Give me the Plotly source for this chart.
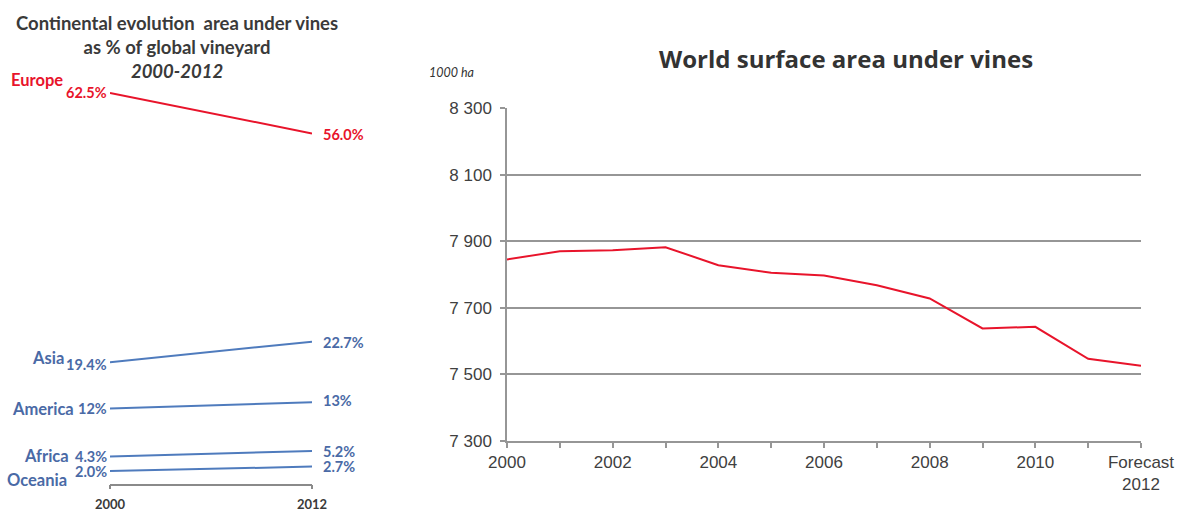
import plotly.graph_objects as go

# ---- Left panel: share of global vineyard by continent (%) ----
continents = ["Europe", "Asia", "America", "Africa", "Oceania"]
share_2000 = [62.5, 19.4, 12, 4.3, 2.0]
share_2012 = [56.0, 22.7, 13, 5.2, 2.7]
share_2000_text = ["62.5%", "19.4%", "12%", "4.3%", "2.0%"]
share_2012_text = ["56.0%", "22.7%", "13%", "5.2%", "2.7%"]
share_years = [2000, 2012]

# ---- Right panel: world surface area under vines (1000 ha) ----
years = list(range(2000, 2013))
area = [7845, 7870, 7873, 7882, 7828, 7805, 7797, 7768, 7728, 7638, 7643, 7547, 7526]
year_tick_text = ["2000", "", "2002", "", "2004", "", "2006", "", "2008", "", "2010", "",
                  "Forecast<br>2012"]
area_ticks = [7300, 7500, 7700, 7900, 8100, 8300]

W, H = 1179, 511
RED = "#e8142b"
BLUE = "#4f7bbd"
BLUE_TXT = "#4a6aa6"
DARK = "#3a3a3a"
GRID = "#969696"
LEFT_FONT = "Lato"

line_colors = [RED, BLUE, BLUE, BLUE, BLUE]
text_colors = [RED, BLUE_TXT, BLUE_TXT, BLUE_TXT, BLUE_TXT]
# pixel offsets of the continent names relative to the 2000 point
name_shift = [(-45, 13), (-44, 4), (-34, 0), (-39, 1), (-41, -9)]
v0_shift = [0, -2, 0, 0, 0]
v1_shift = [-1, -1, 2, 0, 0]

fig = go.Figure()

for i, name in enumerate(continents):
    fig.add_trace(go.Scatter(
        x=share_years, y=[share_2000[i], share_2012[i]],
        mode="lines", line=dict(color=line_colors[i], width=2),
        xaxis="x", yaxis="y", showlegend=False, hoverinfo="skip"))

annotations = []
for i, name in enumerate(continents):
    annotations.append(dict(
        x=2000, y=share_2000[i], xref="x", yref="y", text=name,
        xanchor="right", yanchor="middle", showarrow=False,
        xshift=name_shift[i][0], yshift=name_shift[i][1],
        font=dict(family=LEFT_FONT, size=16.5, color=text_colors[i], weight="bold")))
    annotations.append(dict(
        x=2000, y=share_2000[i], xref="x", yref="y", text=share_2000_text[i],
        xanchor="right", yanchor="middle", showarrow=False,
        xshift=-1, yshift=v0_shift[i],
        font=dict(family=LEFT_FONT, size=14.5, color=text_colors[i], weight="bold")))
    annotations.append(dict(
        x=2012, y=share_2012[i], xref="x", yref="y", text=share_2012_text[i],
        xanchor="left", yanchor="middle", showarrow=False,
        xshift=9, yshift=v1_shift[i],
        font=dict(family=LEFT_FONT, size=14.5, color=text_colors[i], weight="bold")))

# left panel title
annotations.append(dict(
    x=177 / W, y=1 - 47 / H, xref="paper", yref="paper",
    text="Continental evolution  area under vines<br>as % of global vineyard<br><b><i>2000-2012</i></b>",
    showarrow=False, xanchor="center", yanchor="middle", align="center",
    font=dict(family=LEFT_FONT, size=18.5, color=DARK, weight="bold")))

# right panel title and unit
annotations.append(dict(
    x=846 / W, y=1 - 58 / H, xref="paper", yref="paper",
    text="World surface area under vines", showarrow=False,
    xanchor="center", yanchor="middle",
    font=dict(family="Open Sans", size=24, color="#333333", weight="bold")))
annotations.append(dict(
    x=427 / W, y=1 - 73 / H, xref="paper", yref="paper",
    text="<i>1000 ha</i>", showarrow=False, xanchor="left", yanchor="middle",
    font=dict(family=LEFT_FONT, size=12.5, color="#333333")))

fig.add_trace(go.Scatter(
    x=years, y=area, mode="lines", line=dict(color=RED, width=2),
    xaxis="x2", yaxis="y2", showlegend=False, hoverinfo="skip"))

fig.update_layout(
    width=W, height=H, autosize=False,
    margin=dict(l=0, r=0, t=0, b=0, pad=0, autoexpand=False),
    paper_bgcolor="white", plot_bgcolor="white",
    showlegend=False,
    separators=". ",
    annotations=annotations,
    xaxis=dict(
        domain=[110 / W, 312 / W], range=[2000, 2012], automargin=False,
        tickvals=share_years, ticktext=[str(y) for y in share_years],
        showline=True, linecolor="#8a8a8a", linewidth=1.5,
        ticks="outside", ticklen=4, tickcolor="#8a8a8a", tickwidth=1.5,
        showgrid=False, zeroline=False, ticklabelstandoff=4,
        tickfont=dict(family=LEFT_FONT, size=13, color=DARK, weight="bold")),
    yaxis=dict(
        domain=[1 - 483.5 / H, 1 - 77.25 / H], range=[0, 65], automargin=False,
        visible=False, showgrid=False, zeroline=False),
    xaxis2=dict(
        domain=[507 / W, 1141 / W], range=[2000, 2012], anchor="y2", automargin=False,
        tickvals=years, ticktext=year_tick_text,
        showline=True, linecolor=GRID, linewidth=1.5,
        ticks="outside", ticklen=5, tickcolor=GRID, tickwidth=1.5,
        showgrid=False, zeroline=False,
        tickfont=dict(family="Liberation Sans", size=17, color="#404040")),
    yaxis2=dict(
        domain=[1 - 441 / H, 1 - 108 / H], range=[7300, 8300], anchor="x2", automargin=False,
        tickvals=area_ticks, tickformat=",d",
        showline=True, linecolor=GRID, linewidth=1.5,
        ticks="outside", ticklen=5, tickcolor=GRID, tickwidth=1.5,
        showgrid=True, gridcolor=GRID, gridwidth=1.5, zeroline=False,
        ticklabelstandoff=5,
        tickfont=dict(family="Liberation Sans", size=17, color="#404040")),
)

fig.write_html("out.html")
